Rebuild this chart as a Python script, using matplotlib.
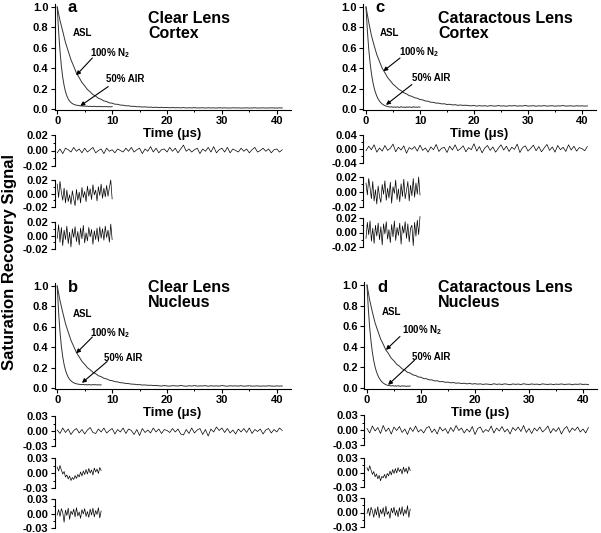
import numpy as np
import matplotlib
matplotlib.use("Agg")
import matplotlib.pyplot as plt
from matplotlib.ticker import MultipleLocator, FormatStrFormatter

plt.rcParams['font.family'] = ['Liberation Sans', 'DejaVu Sans']
plt.rcParams['font.weight'] = 'bold'
plt.rcParams['axes.unicode_minus'] = False
plt.rcParams['mathtext.fontset'] = 'custom'
plt.rcParams['mathtext.rm'] = 'Liberation Sans:bold'
plt.rcParams['mathtext.bf'] = 'Liberation Sans:bold'
plt.rcParams['mathtext.default'] = 'bf'

# ---------------- data (values in thousandths) ----------------
DT_LONG = 0.5    # us, sampling of 100% N2 curves / residuals
DT_SHORT = 0.25  # us, sampling of 50% AIR curves / residuals

# Panel a: Clear Lens Cortex
a_n2 = [1000,868,762,652,567,483,418,352,307,260,227,191,168,141,126,105,95,79,73,60,
        57,47,46,38,37,31,31,26,26,22,22,19,21,17,18,15,17,14,16,13,15,12,14,12,13,11,
        14,10,12,11,13,10,11,12,9,12,10,11,9,12,10,11,10,9,12,10,11,9,10,11,9,10,12,9,
        10,11,9,10,11,10,9,11,10]
a_air = [1000,760,570,420,310,230,170,128,98,78,63,53,46,41,37,35,33,31,30,28,
         29,26,28,24,27,25,23,27,24,22,26,23,25,21,24,22,25,20,23,21,24]
a_res_n2 = [-3,2,-4,3,1,-2,4,-1,2,-3,3,-2,1,4,-3,0,2,-4,3,-1,1,-3,2,0,-2,3,-1,4,-2,1,
            3,-4,2,-1,5,-2,3,-3,1,2,-2,4,-1,3,-3,2,7,-1,2,-2,1,3,-4,2,-1,4,-2,5,-3,1,
            3,-2,4,-3,2,0,-2,3,-1,2,-3,1,4,-2,0,3,-1,2,-3,1,2,-2,1]
a_res_air1 = [14,-6,18,2,-10,8,-14,5,-12,-2,-16,4,-8,-18,6,-10,2,-14,9,-6,
              3,-12,11,-4,7,-9,13,-2,5,-11,10,-3,14,-7,8,-5,12,-4,9,20,-8]
a_res_air2 = [-4,16,-10,12,-15,8,-6,14,-12,5,-17,10,-3,13,-9,6,-14,11,-5,15,
              -11,4,-8,12,-2,9,-13,7,-6,11,-9,13,-4,10,-7,14,-3,8,-10,17,-6]

# Panel b: Clear Lens Nucleus
b_n2 = [1000,858,742,632,548,468,407,348,305,261,232,199,179,154,140,120,111,95,89,76,
        72,63,59,52,50,44,43,38,37,33,33,29,30,26,27,24,25,22,19,24,20,18,23,21,19,25,
        20,17,22,19,24,18,21,20,23,17,22,19,21,18,24,20,17,22,19,21,18,23,17,20,22,18,
        19,21,17,20,18,22,19,17,21,18,20]
b_air = [1000,740,550,410,305,230,175,135,106,85,70,59,51,45,41,38,36,34,33,35,
         31,34,30,33,32,29,34,31,33,30,32,29,31]
b_res_n2 = [2,-5,6,-3,4,-7,1,5,-4,3,-6,2,7,-3,-5,4,-2,6,-4,1,5,-6,3,-2,6,-5,4,1,-7,3,
            -9,5,-3,2,-4,6,-2,4,-5,3,1,-3,5,-2,4,-6,-8,3,-5,6,-4,2,5,-7,3,-10,4,-2,8,1,
            6,-3,5,-4,2,-6,4,-2,5,-3,6,-5,3,-1,4,-6,2,5,-4,3,-2,6,1]
b_res_air1 = [12,4,15,6,-2,3,-8,-4,-12,-6,-15,-9,-13,-5,-11,-3,-8,2,-6,4,
              -3,7,-2,9,0,6,-4,10,2,8,-1,11,5]
b_res_air2 = [-3,8,-6,10,2,-18,7,-4,11,-12,5,-2,9,-7,12,-5,3,-10,8,-1,
              10,-6,4,-8,9,-3,11,-7,6,-2,12,-9,5]

# Panel c: Cataractous Lens Cortex
c_n2 = [1000,852,722,623,533,465,399,355,308,277,243,221,195,180,159,148,131,124,110,105,
        93,89,78,76,66,65,57,57,50,51,44,46,40,42,36,39,35,37,33,31,34,28,33,29,32,27,
        33,30,28,34,29,31,27,32,30,33,28,31,29,35,28,30,32,27,31,29,33,28,30,32,27,31,
        29,34,28,30,31,27,32,29,31,28,30]
c_air = [1000,770,590,455,350,270,208,162,126,98,77,61,49,40,33,28,24,21,19,22,
         17,20,16,21,18,15,22,17,19,14,21,16,20,18,15,22,17,19,16,21,18]
c_res_n2 = [-5,8,-2,12,-9,3,-6,10,-4,2,14,-8,5,-3,9,-12,4,-1,7,-6,11,-4,3,-9,6,-2,13,-7,2,5,
            -10,8,-3,12,-5,1,9,-8,4,-2,15,-6,7,-11,3,10,-4,6,-9,2,12,-3,8,-7,5,-1,14,-10,4,9,
            -6,2,11,-5,7,-8,3,13,-4,6,-9,10,-2,5,-7,12,-3,8,-6,4,1,-5,7]
c_res_air1 = [12,-4,18,6,-9,14,-12,3,-16,8,-6,-14,10,-3,15,-11,5,-8,13,-15,
              7,-2,16,-10,4,-13,11,-6,17,-9,2,14,-12,9,-5,18,-7,12,-3,20,-4]
c_res_air2 = [-8,14,-3,16,-12,6,-15,10,-5,13,-10,8,-17,12,-2,15,-9,4,-14,11,
              -6,16,-11,7,-4,13,-16,9,-1,15,-8,12,-13,6,10,-18,14,-5,17,-3,22]

# Panel d: Cataractous Lens Nucleus
d_n2 = [1000,853,737,632,555,479,425,369,332,289,263,230,212,186,174,152,145,127,122,107,
        104,91,90,79,79,69,70,61,63,55,57,50,53,46,49,43,46,40,44,38,42,37,40,34,39,36,
        33,41,35,38,34,40,36,32,39,35,38,33,41,36,34,39,35,37,32,40,36,34,38,33,37,35,
        39,34,36,38,32,37,35,39,34,36,33]
d_air = [1000,765,585,450,345,265,204,158,123,96,76,60,48,39,32,27,24,22,20,23,
         18,21,17,22,19,16,21,18,20,15,19,17,20]
d_res_n2 = [3,-6,8,-2,5,-7,9,-3,4,-8,6,-1,7,-5,2,-9,5,-3,8,-4,1,-6,4,7,-5,2,-8,6,-2,3,
            -7,5,-3,9,-1,4,-6,2,-4,7,-9,3,6,-5,1,-3,8,-6,4,-2,7,-4,2,-8,5,-1,6,-3,9,-5,
            3,-7,4,-2,6,-4,1,8,-6,3,-3,5,-8,2,7,-5,4,-1,6,-4,2,-6,5]
d_res_air1 = [10,3,14,5,-4,2,-9,-3,-13,-6,-17,-8,-11,-4,-12,-2,-7,3,-5,6,
              -2,8,-1,10,2,7,-3,11,1,9,-2,12,4]
d_res_air2 = [-2,9,-7,11,3,-10,8,-5,12,-11,6,-3,10,-8,13,-4,2,-12,9,-1,
              11,-6,5,-9,10,-4,12,-7,6,-3,14,-10,7]

letters = ['a', 'b', 'c', 'd']
titles = ['Clear Lens\nCortex', 'Clear Lens\nNucleus',
          'Cataractous Lens\nCortex', 'Cataractous Lens\nNucleus']
res_limits = [[0.02, 0.02, 0.02], [0.03, 0.03, 0.03],
              [0.04, 0.02, 0.02], [0.03, 0.03, 0.03]]
main_yticks = [0.0, 0.2, 0.4, 0.6, 0.8, 1.0]
main_xticks = [0, 10, 20, 30, 40]

# ---------------- layout ----------------
W, H = 601, 533
fig = plt.figure(figsize=(W / 100, H / 100), dpi=100)


def pxax(l, t, r, b):
    return fig.add_axes([l / W, 1 - b / H, (r - l) / W, (b - t) / H])


def ftext(x, y, s, **kw):
    fig.text(x / W, 1 - y / H, s, **kw)


panels = [
    dict(n2=a_n2, air=a_air, res=[a_res_n2, a_res_air1, a_res_air2],
         main=(54.5, 3.9, 290.5, 110), res_px=[(135, 166), (180, 207), (222, 249)],
         letter_xy=(68, 8), title_xy=(148, 26),
         asl=(2.9, 0.74), n2t=(6.0, 0.55), airt=(8.9, 0.29),
         n2arr=((6.4, 0.50), (3.45, 0.33)), airarr=((9.3, 0.22), (4.2, 0.03))),
    dict(n2=b_n2, air=b_air, res=[b_res_n2, b_res_air1, b_res_air2],
         main=(54.5, 283, 290.5, 389), res_px=[(416, 446), (458, 488), (499, 528)],
         letter_xy=(68, 287), title_xy=(148, 295),
         asl=(2.9, 0.73), n2t=(6.0, 0.54), airt=(8.5, 0.29),
         n2arr=((6.4, 0.50), (3.45, 0.34)), airarr=((9.1, 0.26), (4.5, 0.05))),
    dict(n2=c_n2, air=c_air, res=[c_res_n2, c_res_air1, c_res_air2],
         main=(363.3, 3.9, 595.5, 110), res_px=[(135, 163), (177, 207), (218, 247)],
         letter_xy=(375, 8), title_xy=(438, 26),
         asl=(2.6, 0.74), n2t=(6.1, 0.56), airt=(8.5, 0.30),
         n2arr=((6.3, 0.50), (3.2, 0.37)), airarr=((8.5, 0.24), (3.7, 0.04))),
    dict(n2=d_n2, air=d_air, res=[d_res_n2, d_res_air1, d_res_air2],
         main=(364.3, 282, 596.5, 389), res_px=[(415, 445), (458, 487), (498, 527)],
         letter_xy=(377, 287), title_xy=(438, 295),
         asl=(2.7, 0.74), n2t=(6.4, 0.56), airt=(8.4, 0.30),
         n2arr=((6.1, 0.50), (3.5, 0.37)), airarr=((8.8, 0.27), (3.9, 0.03))),
]

XLIM = (-0.5, 42.5)
TICKFS = 8
arrowprops = dict(arrowstyle='-|>', lw=0.8, color='black', mutation_scale=6,
                  shrinkA=0, shrinkB=0)

for i, p in enumerate(panels):
    l, t, r, b = p['main']
    ax = pxax(l, t, r, b)
    n2 = np.array(p['n2']) / 1000.0
    air = np.array(p['air']) / 1000.0
    t_n2 = np.arange(len(n2)) * DT_LONG
    t_air = np.arange(len(air)) * DT_SHORT
    ax.plot(t_n2, n2, color='#333333', lw=0.7)
    ax.plot(t_air, air, color='#333333', lw=0.7)
    ax.set_xlim(*XLIM)
    ax.set_ylim(-0.01, 1.03)
    for s in ('top', 'right'):
        ax.spines[s].set_visible(False)
    for s in ('left', 'bottom'):
        ax.spines[s].set_linewidth(0.8)
    ax.set_xticks(main_xticks)
    ax.xaxis.set_minor_locator(MultipleLocator(5))
    ax.set_yticks(main_yticks)
    ax.yaxis.set_major_formatter(FormatStrFormatter('%.1f'))
    ax.tick_params(which='major', direction='out', length=3, width=0.8,
                   labelsize=TICKFS, pad=1.5)
    ax.tick_params(which='minor', direction='out', length=1.5, width=0.7)
    for lab in ax.get_xticklabels() + ax.get_yticklabels():
        lab.set_fontweight('bold')
    ax.set_xlabel('Time (μs)', fontsize=9.5, fontweight='bold', labelpad=1)

    ax.text(p['asl'][0], p['asl'][1], 'ASL', fontsize=7, fontweight='bold',
            ha='left', va='center')
    ax.text(p['n2t'][0], p['n2t'][1], r'100% N$_2$', fontsize=7, fontweight='bold',
            ha='left', va='center')
    ax.text(p['airt'][0], p['airt'][1], '50% AIR', fontsize=7, fontweight='bold',
            ha='left', va='center')
    ax.annotate('', xy=p['n2arr'][1], xytext=p['n2arr'][0], arrowprops=arrowprops)
    ax.annotate('', xy=p['airarr'][1], xytext=p['airarr'][0], arrowprops=arrowprops)

    ftext(*p['letter_xy'], letters[i], fontsize=12, fontweight='bold',
          ha='left', va='center')
    ftext(*p['title_xy'], titles[i], fontsize=11.5, fontweight='bold',
          ha='left', va='center', linespacing=1.05)

    # residual panels
    dts = [DT_LONG, DT_SHORT, DT_SHORT]
    for j, (rt, rb) in enumerate(p['res_px']):
        rax = pxax(l, rt, r, rb)
        v = res_limits[i][j]
        rv = np.array(p['res'][j]) / 1000.0
        rt_ = np.arange(len(rv)) * dts[j]
        rax.plot(rt_, rv, color='black', lw=0.5, clip_on=False)
        rax.set_xlim(*XLIM)
        rax.set_ylim(-v, v)
        for s in ('top', 'right', 'bottom'):
            rax.spines[s].set_visible(False)
        rax.spines['left'].set_linewidth(0.8)
        rax.set_xticks([])
        rax.set_yticks([-v, 0, v])
        rax.yaxis.set_minor_locator(MultipleLocator(v / 2))
        rax.yaxis.set_major_formatter(FormatStrFormatter('%.2f'))
        rax.tick_params(axis='y', which='major', direction='out', length=3,
                        width=0.8, labelsize=TICKFS, pad=1.5)
        rax.tick_params(axis='y', which='minor', direction='out', length=1.5,
                        width=0.7)
        for lab in rax.get_yticklabels():
            lab.set_fontweight('bold')
        rax.patch.set_visible(False)

fig.text(10 / W, 1 - 262 / H, 'Saturation Recovery Signal', rotation=90,
         fontsize=12, fontweight='bold', ha='center', va='center')

fig.savefig('out.png', dpi=100)
